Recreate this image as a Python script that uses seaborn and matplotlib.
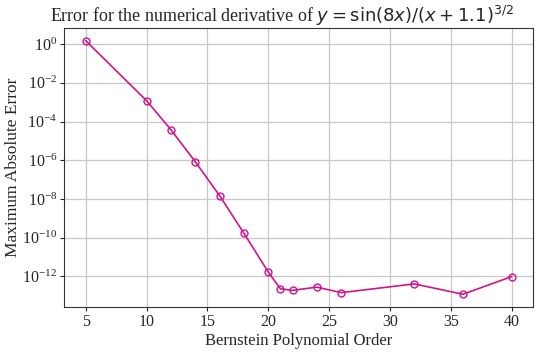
import matplotlib
matplotlib.use("Agg")
import matplotlib.pyplot as plt
import pandas as pd
import seaborn as sns

# Bernstein polynomial order vs. max abs error of the numerical derivative
orders = [5, 10, 12, 14, 16, 18, 20, 21, 22, 24, 26, 32, 36, 40]
max_errors = [1.5, 1.2e-3, 3.8e-5, 8.5e-7, 1.5e-8, 1.7e-10, 1.7e-12,
              2.3e-13, 1.9e-13, 2.8e-13, 1.45e-13, 4.1e-13, 1.2e-13, 9.8e-13]

LINE_COLOR = "#d0138c"

sns.set_style("whitegrid", {
    "axes.edgecolor": "#333333",
    "grid.color": "#c8c8c8",
    "xtick.bottom": True,
    "ytick.left": True,
})
plt.rcParams["font.family"] = ["Liberation Serif", "DejaVu Serif"]
plt.rcParams["mathtext.fontset"] = "dejavusans"

df = pd.DataFrame({"order": orders, "error": max_errors})

fig, ax = plt.subplots(figsize=(5.5, 3.54), dpi=100)
sns.lineplot(
    data=df, x="order", y="error", ax=ax,
    color=LINE_COLOR, linewidth=1.2,
    marker="o", markersize=5, markerfacecolor="none",
    markeredgecolor=LINE_COLOR, markeredgewidth=1.0,
)
ax.set_yscale("log")
ax.set_yticks([1e0, 1e-2, 1e-4, 1e-6, 1e-8, 1e-10, 1e-12])
ax.minorticks_off()
ax.set_xticks([5, 10, 15, 20, 25, 30, 35, 40])
ax.tick_params(labelsize=11.5, length=3, width=0.8, pad=2)
ax.grid(True, linewidth=0.9)

ax.set_xlabel("Bernstein Polynomial Order", fontsize=12, labelpad=2)
ax.set_ylabel("Maximum Absolute Error", fontsize=12.5, labelpad=1)
ax.set_title(r"Error for the numerical derivative of $y = \sin(8x)/(x+1.1)^{3/2}$",
             fontsize=13, pad=4, x=0.464)

fig.subplots_adjust(left=0.117, right=0.969, top=0.921, bottom=0.133)
fig.savefig("out.png", dpi=100)
